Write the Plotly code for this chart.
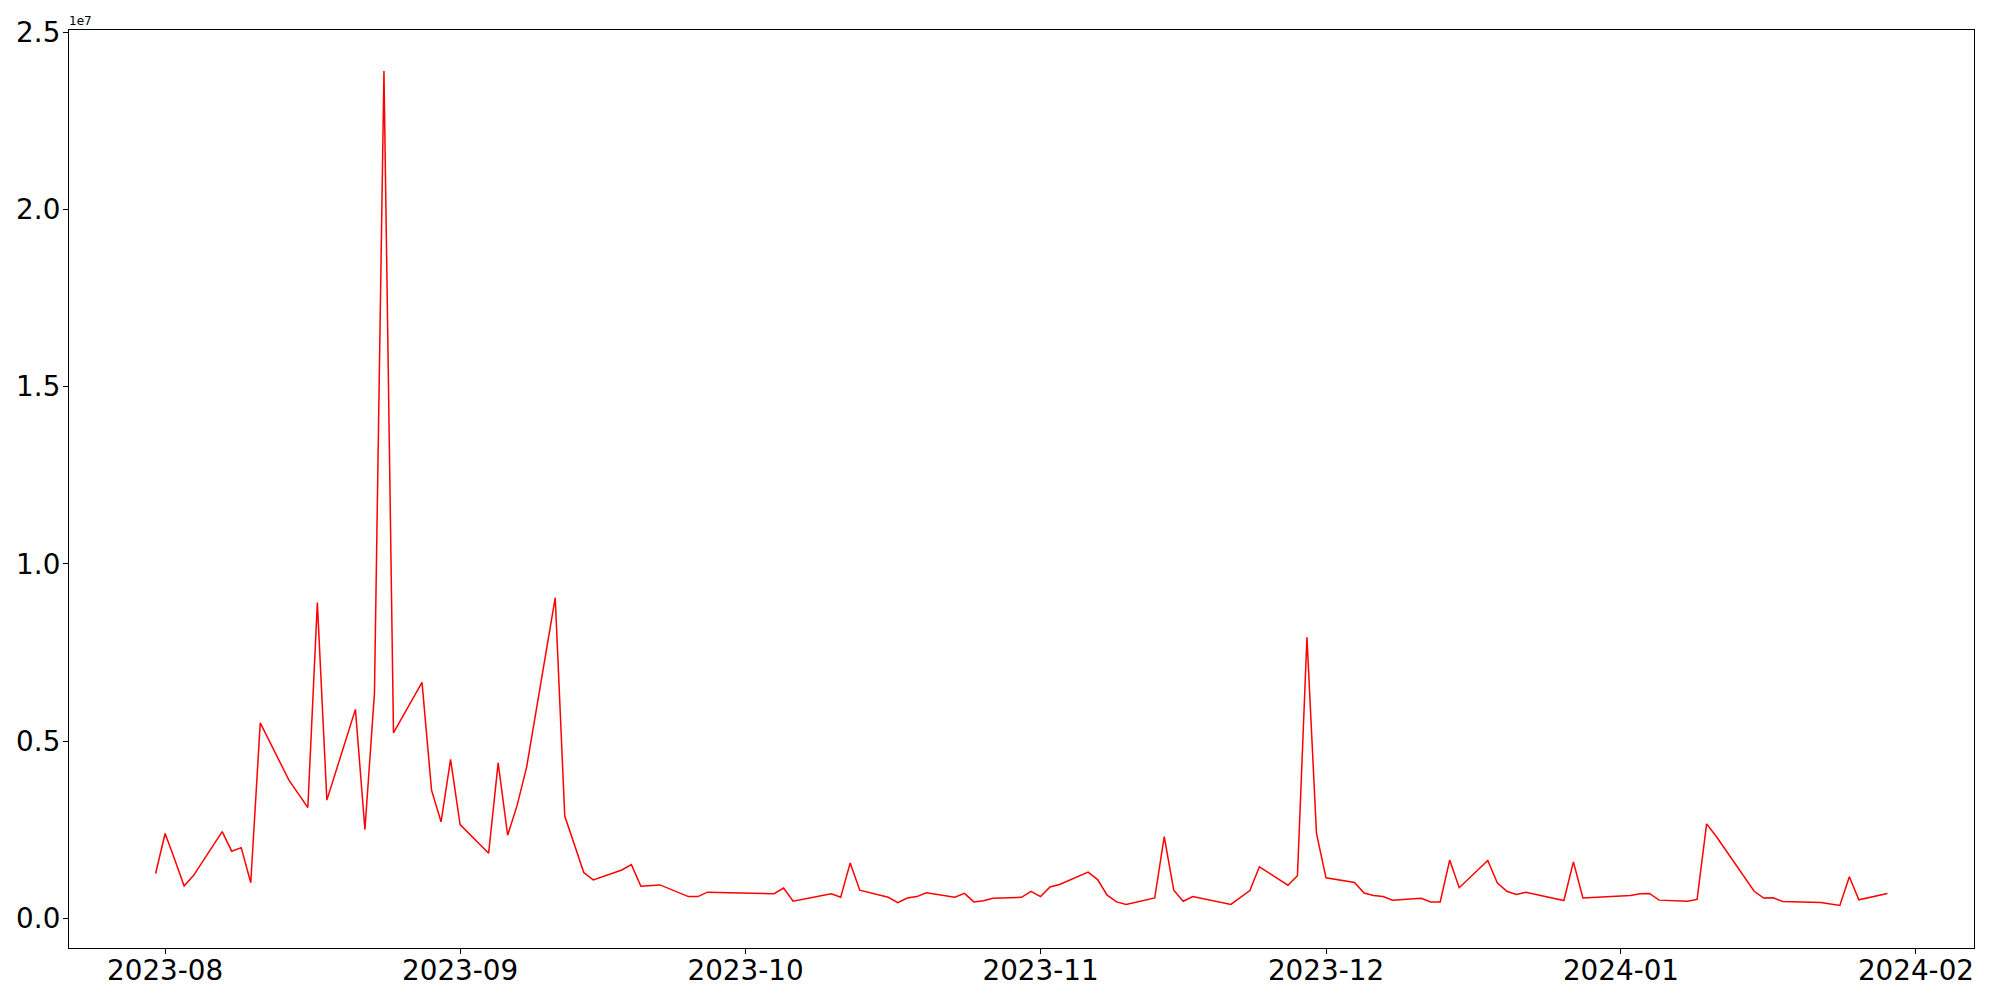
import plotly.graph_objects as go

dates = [
    "2023-07-31", "2023-08-01", "2023-08-02", "2023-08-03", "2023-08-04",
    "2023-08-07", "2023-08-08", "2023-08-09", "2023-08-10", "2023-08-11",
    "2023-08-14", "2023-08-16", "2023-08-17", "2023-08-18",
    "2023-08-21", "2023-08-22", "2023-08-23", "2023-08-24", "2023-08-25",
    "2023-08-28", "2023-08-29", "2023-08-30", "2023-08-31", "2023-09-01",
    "2023-09-04", "2023-09-05", "2023-09-06", "2023-09-07", "2023-09-08",
    "2023-09-11", "2023-09-12", "2023-09-13", "2023-09-14", "2023-09-15",
    "2023-09-18", "2023-09-19", "2023-09-20", "2023-09-22",
    "2023-09-25", "2023-09-26", "2023-09-27",
    "2023-10-04", "2023-10-05", "2023-10-06",
    "2023-10-10", "2023-10-11", "2023-10-12", "2023-10-13",
    "2023-10-16", "2023-10-17", "2023-10-18", "2023-10-19", "2023-10-20",
    "2023-10-23", "2023-10-24", "2023-10-25", "2023-10-26", "2023-10-27",
    "2023-10-30", "2023-10-31", "2023-11-01", "2023-11-02", "2023-11-03",
    "2023-11-06", "2023-11-07", "2023-11-08", "2023-11-09", "2023-11-10",
    "2023-11-13", "2023-11-14", "2023-11-15", "2023-11-16", "2023-11-17",
    "2023-11-21", "2023-11-23", "2023-11-24",
    "2023-11-27", "2023-11-28", "2023-11-29", "2023-11-30", "2023-12-01",
    "2023-12-04", "2023-12-05", "2023-12-06", "2023-12-07", "2023-12-08",
    "2023-12-11", "2023-12-12", "2023-12-13", "2023-12-14", "2023-12-15",
    "2023-12-18", "2023-12-19", "2023-12-20", "2023-12-21", "2023-12-22",
    "2023-12-26", "2023-12-27", "2023-12-28",
    "2024-01-02", "2024-01-03", "2024-01-04", "2024-01-05",
    "2024-01-08", "2024-01-09", "2024-01-10", "2024-01-11",
    "2024-01-15", "2024-01-16", "2024-01-17", "2024-01-18",
    "2024-01-22", "2024-01-24", "2024-01-25", "2024-01-26",
    "2024-01-29",
]

values_millions = [
    1.27, 2.40, 1.67, 0.92, 1.22,
    2.45, 1.90, 2.00, 1.01, 5.52,
    3.91, 3.13, 8.91, 3.34,
    5.90, 2.51, 6.35, 23.90, 5.24,
    6.66, 3.62, 2.73, 4.49, 2.65,
    1.84, 4.39, 2.35, 3.20, 4.28,
    9.05, 2.89, 2.07, 1.30, 1.09,
    1.37, 1.52, 0.91, 0.95,
    0.62, 0.62, 0.745,
    0.70, 0.86, 0.49,
    0.70, 0.60, 1.57, 0.80,
    0.60, 0.45, 0.58, 0.62, 0.73,
    0.60, 0.71, 0.47, 0.50, 0.57,
    0.60, 0.77, 0.62, 0.89, 0.96,
    1.31, 1.10, 0.66, 0.47, 0.40,
    0.58, 2.31, 0.80, 0.49, 0.62,
    0.40, 0.79, 1.46,
    0.94, 1.21, 7.93, 2.40, 1.15,
    1.02, 0.72, 0.65, 0.62, 0.52,
    0.57, 0.47, 0.47, 1.65, 0.87,
    1.64, 1.01, 0.77, 0.68, 0.745,
    0.51, 1.60, 0.58,
    0.65, 0.70, 0.71, 0.52,
    0.49, 0.54, 2.67, 2.32,
    0.77, 0.58, 0.585, 0.48,
    0.45, 0.37, 1.18, 0.53,
    0.71,
]
values = [v * 1e6 for v in values_millions]

y_tick_vals = [0, 5e6, 1e7, 1.5e7, 2e7, 2.5e7]
y_tick_text = ["0.0", "0.5", "1.0", "1.5", "2.0", "2.5"]
offset_label = "1e7"

FONT = "DejaVu Sans"

fig = go.Figure()
fig.add_trace(go.Scatter(
    x=dates, y=values, mode="lines",
    line=dict(color="#ff0000", width=1.5),
    showlegend=False,
))

# page body has an 8px default margin; size the figure so the page is 2000x1000
fig.update_layout(
    width=1984, height=984,
    margin=dict(l=61, r=18, t=22, b=44, pad=0),
    paper_bgcolor="white", plot_bgcolor="white",
    font=dict(family=FONT, color="black"),
    xaxis=dict(
        type="date", automargin=False,
        range=["2023-07-21 21:36", "2024-02-07 02:24"],
        tick0="2023-08-01", dtick="M1", tickformat="%Y-%m",
        showgrid=False, zeroline=False,
        showline=True, linecolor="black", linewidth=1.2, mirror=True,
        ticks="outside", ticklen=5, tickwidth=1.2, tickcolor="black",
        ticklabelstandoff=-7,
        tickfont=dict(family=FONT, size=27.8, color="black"),
    ),
    yaxis=dict(
        automargin=False,
        range=[-0.83e6, 25.06e6],
        tickmode="array", tickvals=y_tick_vals, ticktext=y_tick_text,
        showgrid=False, zeroline=False,
        showline=True, linecolor="black", linewidth=1.2, mirror=True,
        ticks="outside", ticklen=5, tickwidth=1.2, tickcolor="black",
        ticklabelstandoff=-3,
        tickfont=dict(family=FONT, size=27.8, color="black"),
    ),
    annotations=[dict(
        text=offset_label, xref="paper", yref="paper", x=0, y=1,
        xanchor="left", yanchor="bottom", showarrow=False,
        font=dict(family=FONT, size=12, color="black"), yshift=0, xshift=-2,
    )],
)

fig.write_html("out.html")
